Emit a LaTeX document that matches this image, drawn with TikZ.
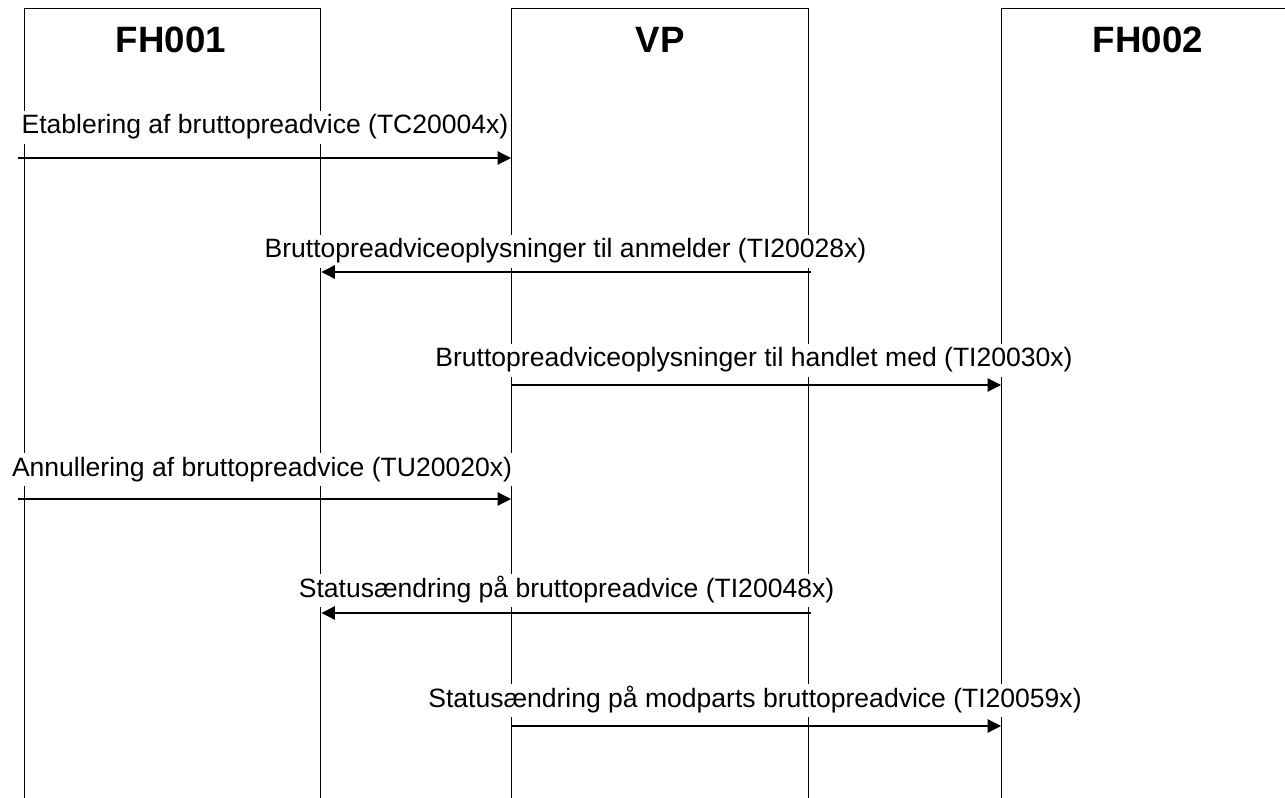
\documentclass[tikz,border=0pt]{standalone}
\usepackage{fontspec}
\setmainfont{Liberation Sans}
\usetikzlibrary{arrows.meta}
\begin{document}
\begin{tikzpicture}[x=0.75pt,y=-0.75pt,
  lane/.style={draw, line width=1.1pt, rectangle, anchor=north west, inner sep=0pt, minimum height=615pt},
  title/.style={font=\fontsize{27.5}{32}\selectfont\bfseries, anchor=base, inner sep=0pt},
  msg/.style={font=\fontsize{19.9}{24}\selectfont, anchor=base, fill=white, inner xsep=0.5pt, inner ysep=3pt, text height=14.25pt, text depth=4.5pt},
  arr/.style={line width=0.9pt, -{Triangle[length=10pt,width=10pt]}}]
\useasboundingbox (0,0) rectangle (1285,798);
\clip (0,0) rectangle (1285,798);
% lanes
\node[lane, minimum width=222pt] (fh001) at (24,8) {};
\node[lane, minimum width=222.75pt] (vp) at (511,8) {};
\node[lane, minimum width=220.5pt] (fh002) at (1001,8) {};
% titles
\node[title] (t1) at (171,53) {FH001};
\node[title] (t2) at (660,53) {VP};
\node[title] (t3) at (1148,53) {FH002};
% labels
\node[msg] (l1) at (265,134) {Etablering af bruttopreadvice (TC20004x)};
\node[msg] (l2) at (565.5,258) {Bruttopreadviceoplysninger til anmelder (TI20028x)};
\node[msg] (l3) at (754,367) {Bruttopreadviceoplysninger til handlet med (TI20030x)};
\node[msg] (l4) at (262,476) {Annullering af bruttopreadvice (TU20020x)};
\node[msg] (l5) at (566.5,597) {Statusændring på bruttopreadvice (TI20048x)};
\node[msg] (l6) at (755,707) {Statusændring på modparts bruttopreadvice (TI20059x)};
% arrow end points
\coordinate (a1s) at (18,158);
\coordinate (a2s) at (811,272);
\coordinate (a3s) at (511,385);
\coordinate (a4s) at (18,499);
\coordinate (a5s) at (811,613);
\coordinate (a6s) at (511,726);
\draw[arr] (a1s) -- (vp.west |- a1s);
\draw[arr] (a2s) -- (fh001.east |- a2s);
\draw[arr] (a3s) -- (fh002.west |- a3s);
\draw[arr] (a4s) -- (vp.west |- a4s);
\draw[arr] (a5s) -- (fh001.east |- a5s);
\draw[arr] (a6s) -- (fh002.west |- a6s);
\end{tikzpicture}
\end{document}
